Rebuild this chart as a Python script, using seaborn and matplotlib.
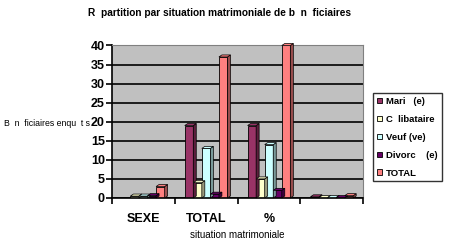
import matplotlib
matplotlib.use("Agg")
import matplotlib.pyplot as plt
from matplotlib.patches import Polygon
import seaborn as sns
import pandas as pd
import numpy as np

categories = ["SEXE", "TOTAL", "%", " "]
series = ["Mari   (e)", "C  libataire", "Veuf (ve)", "Divorc    (e)", "TOTAL"]
mari = [0, 19, 19, 0.3]
celibataire = [0.5, 4, 5, 0.1]
veuf = [0.5, 13, 14, 0.1]
divorce = [0.6, 1, 2, 0.1]
total = [3, 37, 40, 0.6]
colors = ["#993366", "#FFFFCC", "#CCFFFF", "#660066", "#FF8080"]
side_colors = ["#5c1f3d", "#99997a", "#7a9999", "#3d003d", "#994d4d"]

values = [mari, celibataire, veuf, divorce, total]
rows = []
for s, vals in zip(series, values):
    for c, v in zip(categories, vals):
        rows.append({"cat": c, "serie": s, "val": v})
df = pd.DataFrame(rows)

sns.set_theme(style="white")
plt.rcParams["font.family"] = ["Liberation Sans", "DejaVu Sans"]
plt.rcParams["text.color"] = "black"
plt.rcParams["xtick.color"] = "black"
plt.rcParams["ytick.color"] = "black"

fig = plt.figure(figsize=(4.49, 2.42), dpi=100)
ax = fig.add_axes([0.249, 0.182, 0.560, 0.630])
ax.set_facecolor("#C0C0C0")

sns.barplot(data=df, x="cat", y="val", hue="serie", order=categories,
            hue_order=series, palette=colors, width=0.68, ax=ax,
            edgecolor="black", linewidth=0.6, legend=True, saturation=1)

ax.set_ylim(0, 40)
ax.set_xlim(-0.5, 3.5)
ax.set_yticks(np.arange(0, 41, 5))
ax.yaxis.grid(True, color="black", linewidth=1.2)
ax.set_axisbelow(True)

# 3D depth faces derived from bar patches
dx, dy = 3, 2
for i, cont in enumerate(ax.containers):
    for p in cont.patches:
        x0, w, h = p.get_x(), p.get_width(), p.get_height()
        if h <= 0:
            continue
        a = ax.transData.transform([(x0 + w, 0), (x0 + w, h), (x0, h)])
        side = Polygon([a[0], a[1], a[1] + [dx, dy], a[0] + [dx, dy]],
                       closed=True, transform=None, facecolor=side_colors[i],
                       edgecolor="black", linewidth=0.5, zorder=p.get_zorder())
        top = Polygon([a[2], a[1], a[1] + [dx, dy], a[2] + [dx, dy]],
                      closed=True, transform=None, facecolor=colors[i],
                      edgecolor="black", linewidth=0.5, zorder=p.get_zorder())
        fig.add_artist(side)
        fig.add_artist(top)

for s in ["top", "right"]:
    ax.spines[s].set_color("#808080")
    ax.spines[s].set_linewidth(0.8)
ax.spines["left"].set_color("black")
ax.spines["bottom"].set_color("black")
ax.spines["left"].set_linewidth(1.2)
ax.spines["bottom"].set_linewidth(1.2)

ax.tick_params(axis="y", left=True, length=4, width=1.2, color="black",
               labelsize=9, pad=1, labelcolor="black")
ax.set_xticks(range(len(categories)))
ax.set_xticklabels(categories)
ax.set_xticks([-0.5, 0.5, 1.5, 2.5, 3.5], minor=True)
ax.tick_params(axis="x", which="major", bottom=False, labelsize=9, pad=5,
               labelcolor="black")
ax.tick_params(axis="x", which="minor", bottom=True, length=4, width=1.2,
               color="black")
for lbl in ax.get_yticklabels() + ax.get_xticklabels():
    lbl.set_fontweight("bold")

ax.set_xlabel("")
ax.set_ylabel("")
fig.text(0.488, 0.945, "R  partition par situation matrimoniale de b  n  ficiaires",
         ha="center", va="center", fontsize=7.3, fontweight="bold")
fig.text(0.528, 0.03, "situation matrimoniale", ha="center", va="center",
         fontsize=7)
fig.text(0.008, 0.49, "B  n  ficiaires enqu  t s", ha="left", va="center",
         fontsize=6.3)

handles, labels = ax.get_legend_handles_labels()
ax.legend_.remove()
leg = fig.legend(handles, labels, loc="upper left",
                 bbox_to_anchor=(0.8307, 0.6157), borderaxespad=0,
                 frameon=True, fancybox=False,
                 edgecolor="black", handlelength=0.55,
                 handleheight=0.55, handletextpad=0.45, labelspacing=0.95,
                 borderpad=0.4, prop={"weight": "bold", "size": 6.8})
leg.get_frame().set_linewidth(1.0)

fig.savefig("out.png", dpi=100)
